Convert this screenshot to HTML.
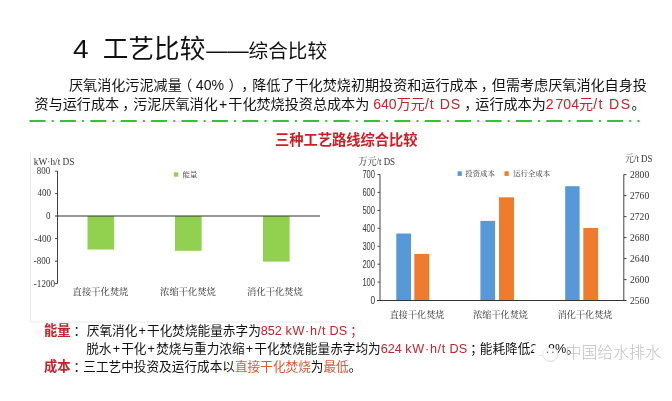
<!DOCTYPE html>
<html lang="zh-CN">
<head>
<meta charset="utf-8">
<title>4 工艺比较——综合比较</title>
<style>
html,body{margin:0;padding:0;background:#fff;}
body{width:672px;height:401px;position:relative;overflow:hidden;font-family:"Liberation Sans","Noto Sans CJK SC",sans-serif;color:#111;}
.abs{position:absolute;white-space:nowrap;filter:blur(.35px);}
svg{filter:blur(.35px);}
#title{left:73px;top:31.2px;font-size:25.6px;line-height:36px;color:#111;}
#title .n{font-size:25.4px;display:inline-block;transform:scaleX(1.1);transform-origin:0 50%;margin-right:1.5px;}
#title .sub{font-size:19.6px;}
#title .dash{font-size:21.2px;letter-spacing:0;margin-left:1px;}
.body{font-size:14.1px;line-height:19.5px;color:#111;text-spacing-trim:space-all;}
.pc{position:relative;left:3px;}
.pl{margin:0 1.15px;}
.ls{letter-spacing:.7px;}
.ls2{letter-spacing:1px;}
.ls3{letter-spacing:1.4px;}
.note b{font-size:13.3px;}
#p1{left:69px;top:75.6px;}
#p2{left:34.6px;top:95.2px;}
.red{color:#c4232b;}
.org{color:#e0582f;}
#ctitle{left:275px;top:129.5px;font-size:14.25px;line-height:20px;font-weight:bold;color:#d01c24;}
.note{font-size:12.65px;line-height:18.5px;color:#111;text-spacing-trim:space-all;}
.note b{color:#c4232b;font-weight:bold;}
#n1{left:44px;top:322px;}
#n2{left:86.2px;top:340.4px;}
#n3{left:44px;top:358.4px;}
#wm{left:565.5px;top:340.6px;font-size:15.9px;line-height:22px;color:#c2c2c2;font-weight:300;font-family:"Noto Sans CJK SC",sans-serif;}
svg{position:absolute;left:0;top:0;}
svg text{font-family:"Liberation Serif","Noto Serif CJK SC",serif;fill:#333;}
svg text.sans{font-family:"Liberation Sans","Noto Sans CJK SC",sans-serif;}
</style>
</head>
<body>
<div id="title" class="abs"><span class="n">4</span>&nbsp;&nbsp;工艺比较<span class="dash">——</span><span class="sub">综合比较</span></div>
<div id="p1" class="abs body">厌氧消化污泥减量<span style="position:relative;left:-3.5px">（</span>40%<span style="position:relative;left:4.5px">）</span><span class="pc">，</span>降低了干化焚烧初期投资和运行成本<span class="pc">，</span>但需考虑厌氧消化自身投</div>
<div id="p2" class="abs body">资与运行成本<span class="pc">，</span>污泥厌氧消化<span class="pl">+</span>干化焚烧投资总成本为 <span class="red">640万元<span class="ls2">/t DS</span></span><span class="pc">，</span>运行成本为<span class="red"><span style="word-spacing:-2px">2 704</span>元<span class="ls3">/t DS</span></span>。</div>

<svg width="672" height="401" viewBox="0 0 672 401">
  <!-- green dash-dot rule -->
  <line x1="29.5" y1="121" x2="639.5" y2="121" stroke="#36c136" stroke-width="2.2" stroke-dasharray="16 6.2 2 6.2"/>

  <!-- left chart frame -->
  <path d="M30.5 152 V322 H336" fill="none" stroke="#e9e9e9" stroke-width="1"/>

  <!-- left chart -->
  <g>
    <rect x="87.5" y="216" width="26.6" height="33.5" fill="#92d050"/>
    <rect x="175" y="216" width="26.6" height="34.8" fill="#92d050"/>
    <rect x="263" y="216" width="26.6" height="45.6" fill="#92d050"/>
    <line x1="57.5" y1="171" x2="57.5" y2="283.5" stroke="#444" stroke-width="1"/>
    <line x1="55" y1="216" x2="320" y2="216" stroke="#333" stroke-width="1.2"/>
    <g stroke="#444" stroke-width="1">
      <line x1="55" y1="171.2" x2="57.5" y2="171.2"/>
      <line x1="55" y1="193.6" x2="57.5" y2="193.6"/>
      <line x1="55" y1="238.6" x2="57.5" y2="238.6"/>
      <line x1="55" y1="261.2" x2="57.5" y2="261.2"/>
      <line x1="55" y1="283.5" x2="57.5" y2="283.5"/>
    </g>
    <g class="ticks" font-size="9.3" fill="#333">
      <text x="36.8" y="174.1" textLength="13.3" lengthAdjust="spacingAndGlyphs">800</text>
      <text x="37.4" y="196.4" textLength="13.6" lengthAdjust="spacingAndGlyphs">400</text>
      <text x="45.9" y="219.1" textLength="4.5" lengthAdjust="spacingAndGlyphs">0</text>
      <text x="34.2" y="241.7" textLength="17" lengthAdjust="spacingAndGlyphs">-400</text>
      <text x="33.8" y="264.3" textLength="16.4" lengthAdjust="spacingAndGlyphs">-800</text>
      <text x="33.8" y="286.6" textLength="21.3" lengthAdjust="spacingAndGlyphs">-1200</text>
    </g>
    <text x="33.8" y="164.8" font-size="10.5" fill="#222" textLength="40.7" lengthAdjust="spacingAndGlyphs">kW·h/t DS</text>
    <rect x="173.8" y="172.3" width="4.4" height="4.4" fill="#92d050"/>
    <text x="182.5" y="177.2" font-size="7.4" fill="#555">能量</text>
    <g font-size="9.3" text-anchor="middle" fill="#444">
      <text x="100.5" y="294.7">直接干化焚烧</text>
      <text x="188" y="294.7">浓缩干化焚烧</text>
      <text x="275" y="294.7">消化干化焚烧</text>
    </g>
  </g>

  <!-- right chart -->
  <g>
    <rect x="396.3" y="233.5" width="14.7" height="67" fill="#5698d8"/>
    <rect x="414.3" y="253.9" width="15" height="46.6" fill="#ee7c2c"/>
    <rect x="480.4" y="220.9" width="14.7" height="79.6" fill="#5698d8"/>
    <rect x="499" y="197.3" width="15" height="103.2" fill="#ee7c2c"/>
    <rect x="565.2" y="186.2" width="14.4" height="114.3" fill="#5698d8"/>
    <rect x="583.3" y="228" width="14.8" height="72.5" fill="#ee7c2c"/>
    <line x1="380" y1="174.5" x2="380" y2="300.5" stroke="#444" stroke-width="1"/>
    <line x1="623.8" y1="174.5" x2="623.8" y2="300.5" stroke="#444" stroke-width="1"/>
    <line x1="377" y1="300.5" x2="626.5" y2="300.5" stroke="#333" stroke-width="1.2"/>
    <g stroke="#444" stroke-width="1">
      <line x1="377.6" y1="174.5" x2="380" y2="174.5"/>
      <line x1="377.6" y1="192.4" x2="380" y2="192.4"/>
      <line x1="377.6" y1="210.4" x2="380" y2="210.4"/>
      <line x1="377.6" y1="228.3" x2="380" y2="228.3"/>
      <line x1="377.6" y1="246.3" x2="380" y2="246.3"/>
      <line x1="377.6" y1="264.2" x2="380" y2="264.2"/>
      <line x1="377.6" y1="282.1" x2="380" y2="282.1"/>
      <line x1="623.8" y1="174.6" x2="626.5" y2="174.6"/>
      <line x1="623.8" y1="195.6" x2="626.5" y2="195.6"/>
      <line x1="623.8" y1="216.6" x2="626.5" y2="216.6"/>
      <line x1="623.8" y1="237.6" x2="626.5" y2="237.6"/>
      <line x1="623.8" y1="258.6" x2="626.5" y2="258.6"/>
      <line x1="623.8" y1="279.6" x2="626.5" y2="279.6"/>
    </g>
    <g font-size="10" fill="#222">
      <text class="sans" x="362.4" y="178.1" textLength="12.6" lengthAdjust="spacingAndGlyphs">700</text>
      <text class="sans" x="362.4" y="196.0" textLength="12.6" lengthAdjust="spacingAndGlyphs">600</text>
      <text class="sans" x="362.4" y="214.0" textLength="12.6" lengthAdjust="spacingAndGlyphs">500</text>
      <text class="sans" x="362.4" y="231.9" textLength="12.6" lengthAdjust="spacingAndGlyphs">400</text>
      <text class="sans" x="362.4" y="249.9" textLength="12.6" lengthAdjust="spacingAndGlyphs">300</text>
      <text class="sans" x="362.4" y="267.8" textLength="12.6" lengthAdjust="spacingAndGlyphs">200</text>
      <text class="sans" x="362.4" y="285.7" textLength="12.6" lengthAdjust="spacingAndGlyphs">100</text>
      <text class="sans" x="370.4" y="303.7" textLength="4.6" lengthAdjust="spacingAndGlyphs">0</text>
    </g>
    <g font-size="9.6">
      <text x="630" y="178">2800</text>
      <text x="630" y="199">2760</text>
      <text x="630" y="220">2720</text>
      <text x="630" y="241">2680</text>
      <text x="630" y="262">2640</text>
      <text x="630" y="283">2600</text>
      <text x="630" y="304">2560</text>
    </g>
    <text x="358.6" y="165" font-size="10" fill="#222" textLength="36.5" lengthAdjust="spacingAndGlyphs">万元/t DS</text>
    <text x="625" y="162.4" font-size="10" fill="#222" textLength="27.5" lengthAdjust="spacingAndGlyphs">元/t DS</text>
    <rect x="457.6" y="171.3" width="4.2" height="4.6" fill="#5698d8"/>
    <text x="465.3" y="176.3" font-size="7.4" fill="#555">投资成本</text>
    <rect x="504.5" y="171.3" width="4.2" height="4.6" fill="#ee7c2c"/>
    <text x="513.2" y="176.3" font-size="7.4" fill="#555">运行全成本</text>
    <g font-size="9.15" text-anchor="middle" fill="#444">
      <text x="417" y="317.5">直接干化焚烧</text>
      <text x="500.6" y="317.5">浓缩干化焚烧</text>
      <text x="585" y="317.5">消化干化焚烧</text>
    </g>
  </g>
</svg>

<div id="ctitle" class="abs">三种工艺路线综合比较</div>

<div id="n1" class="abs note"><b>能量</b><span class="pc">：</span> 厌氧消化<span class="pl">+</span>干化焚烧能量赤字为<span class="red">852 <span class="ls">kW·h/t</span> DS<span class="pc">；</span></span></div>
<div id="n2" class="abs note">脱水<span class="pl">+</span>干化<span class="pl">+</span>焚烧与重力浓缩<span class="pl">+</span>干化焚烧能量赤字均为<span class="red">624 <span class="ls">kW·h/t</span> DS</span><span class="pc">；</span>能耗降低26.8%。</div>
<div id="n3" class="abs note"><b>成本</b><span class="pc">：</span>三工艺中投资及运行成本以<span class="org">直接干化焚烧</span>为<span class="org">最低</span>。</div>

<svg id="wx" width="672" height="401" viewBox="0 0 672 401" style="pointer-events:none">
  <g fill="#d9d9d9" opacity=".9">
    <ellipse cx="540.6" cy="350.1" rx="6.6" ry="5.9"/>
    <ellipse cx="550.8" cy="355.3" rx="7.4" ry="6.5"/>
  </g>
  <g fill="#fff">
    <ellipse cx="540" cy="349.4" rx="6.6" ry="5.9"/>
    <path d="M536.2 353.2 L534.6 357.2 L539.6 354.8 Z"/>
    <ellipse cx="550.2" cy="354.5" rx="7.4" ry="6.5"/>
    <path d="M553.6 359.6 L556.4 362.6 L556.2 358.2 Z"/>
  </g>
  <ellipse cx="550.2" cy="354.5" rx="7.4" ry="6.5" fill="none" stroke="#e2e2e2" stroke-width=".7"/>
  <circle cx="547.5" cy="352.3" r=".75" fill="#555"/>
  <circle cx="552.9" cy="352.3" r=".75" fill="#555"/>
</svg>
<div id="wm" class="abs">中国给水排水</div>
</body>
</html>
